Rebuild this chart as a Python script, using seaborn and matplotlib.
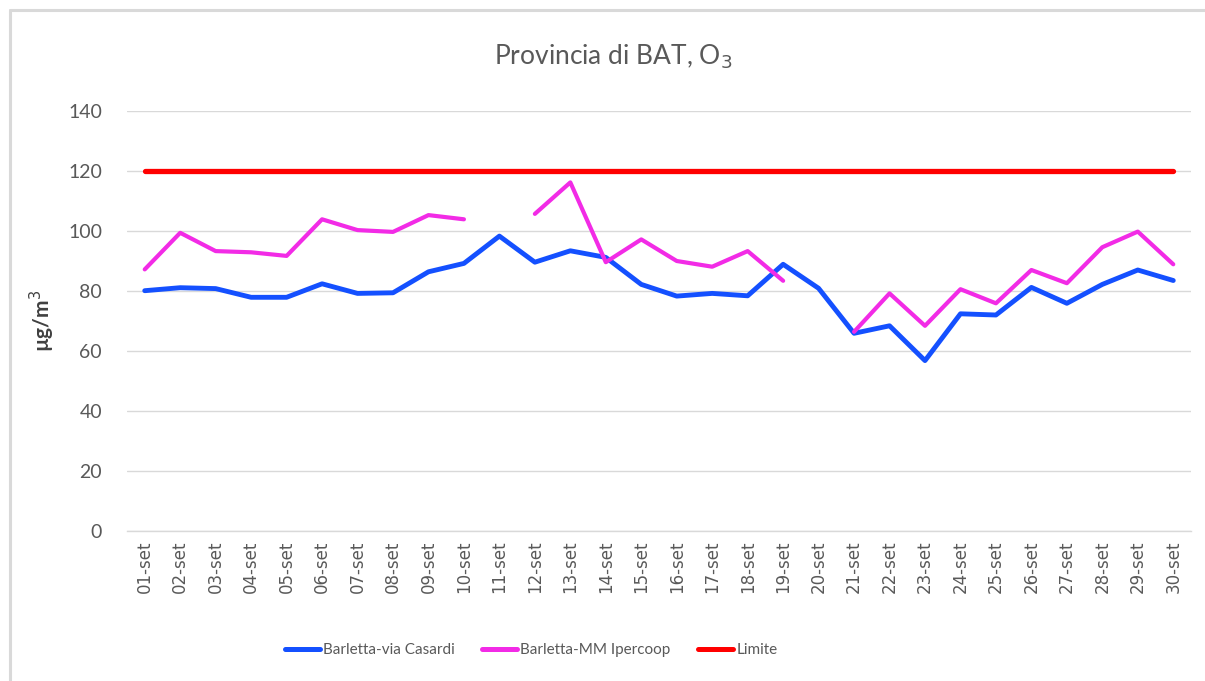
import numpy as np
import pandas as pd
import matplotlib
matplotlib.use("Agg")
import matplotlib.pyplot as plt
from matplotlib.lines import Line2D
import seaborn as sns

days = [f"{d:02d}-set" for d in range(1, 31)]
casardi = [80.1, 81.1, 80.8, 77.9, 77.9, 82.4, 79.2, 79.4, 86.4, 89.2,
           98.3, 89.6, 93.4, 91.2, 82.2, 78.3, 79.2, 78.4, 88.9, 80.9,
           65.9, 68.4, 56.8, 72.4, 72.0, 81.2, 75.9, 82.2, 87.0, 83.5]
ipercoop = [87.2, 99.4, 93.3, 92.9, 91.7, 103.9, 100.3, 99.7, 105.3, 103.9,
            np.nan, 105.7, 116.2, 89.6, 97.2, 90.0, 88.1, 93.3, 83.4, np.nan,
            66.4, 79.2, 68.4, 80.6, 75.9, 87.0, 82.6, 94.6, 99.8, 88.9]
limite = [120] * 30
series_names = ["Barletta-via Casardi", "Barletta-MM Ipercoop", "Limite"]
colors = ["#1450FF", "#F22BE6", "#FF0000"]
widths = [3.5, 3.0, 3.8]
yticks = [0, 20, 40, 60, 80, 100, 120, 140]

rows = []
for name, vals in zip(series_names, [casardi, ipercoop, limite]):
    seg = 0
    for i, v in enumerate(vals):
        if np.isnan(v):
            seg += 1
            continue
        rows.append({"idx": i, "value": v, "series": name, "seg": f"{name}_{seg}"})
df = pd.DataFrame(rows)

sns.set_theme(style="white")
plt.rcParams["font.family"] = ["Lato", "DejaVu Sans"]

fig = plt.figure(figsize=(12.05, 6.81), dpi=100)
# chart border (only top/left visible in reference)
fig.add_artist(Line2D([9.5 / 1205, 1.0], [1 - 10 / 681, 1 - 10 / 681],
                      transform=fig.transFigure, color="#D9D9D9", linewidth=2.2))
fig.add_artist(Line2D([9.5 / 1205, 9.5 / 1205], [0.0, 1 - 10 / 681],
                      transform=fig.transFigure, color="#D9D9D9", linewidth=2.2))

ax = fig.add_axes([127 / 1205, 1 - 531 / 681, (1191 - 127) / 1205, 420 / 681])

for name, col, lw in zip(series_names, colors, widths):
    sub = df[df["series"] == name]
    sns.lineplot(data=sub, x="idx", y="value", units="seg", estimator=None,
                 color=col, linewidth=lw, ax=ax, legend=False,
                 solid_capstyle="round", zorder=3)

ax.set_xlim(-0.5, 29.5)
ax.set_ylim(0, 140)
ax.set_yticks(yticks)
ax.set_yticklabels([str(t) for t in yticks], fontsize=14, color="#595959")
ax.set_xticks(range(30))
ax.set_xticklabels(days, rotation=90, fontsize=12, color="#595959",
                   family=["DejaVu Sans"])
ax.set_xticks(np.arange(-0.5, 30, 1), minor=True)
ax.tick_params(axis="x", which="major", length=0, pad=7)
ax.tick_params(axis="x", which="minor", length=7, color="#D9D9D9", width=1)
ax.tick_params(axis="y", length=0, pad=18)
ax.grid(axis="y", color="#D9D9D9", linewidth=1)
ax.set_axisbelow(True)
for s in ["top", "right", "left"]:
    ax.spines[s].set_visible(False)
ax.spines["bottom"].set_color("#D9D9D9")
ax.spines["bottom"].set_linewidth(1)
ax.set_xlabel("")
ax.set_ylabel("µg/m$^3$", fontsize=15, fontweight="bold", color="#404040",
              labelpad=8)

fig.text(613 / 1205, 1 - 57 / 681, "Provincia di BAT, O$_3$", ha="center",
         va="center", fontsize=19, color="#595959")

handles = [Line2D([0], [0], color=c, linewidth=3.6, solid_capstyle="round")
           for c in colors]
fig.legend(handles, series_names, loc="center",
           bbox_to_anchor=(531 / 1205, 1 - 650 / 681),
           ncol=3, frameon=False, fontsize=11, handlelength=2.3,
           handletextpad=0.2, columnspacing=1.8, labelcolor="#595959")

fig.savefig("out.png", dpi=100)
